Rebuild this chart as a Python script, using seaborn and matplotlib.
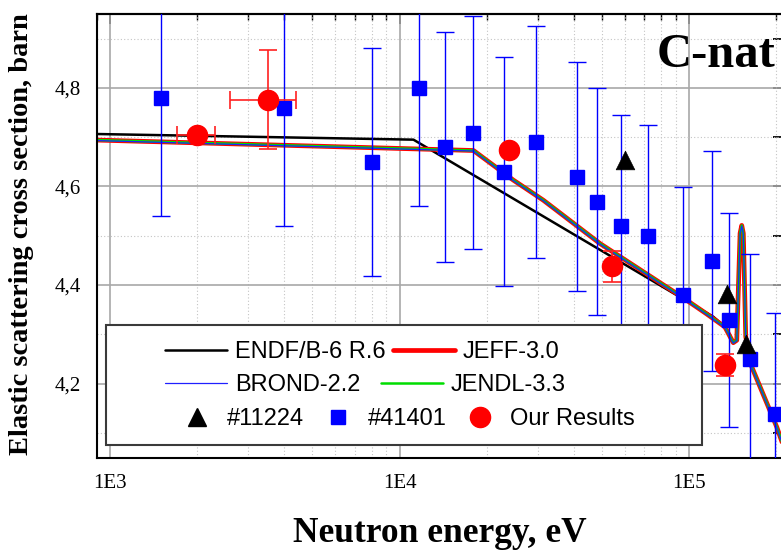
import matplotlib
matplotlib.use("Agg")
import matplotlib.pyplot as plt
import seaborn as sns
from matplotlib.lines import Line2D
from matplotlib.patches import Rectangle
from matplotlib.ticker import LogLocator, MultipleLocator, NullFormatter

# ---------------- data ----------------
# evaluated curves (energy in eV, cross section in barn)
endf_e = [800, 11170, 121400, 133000, 142200, 146200, 150100, 152100, 154000, 157000, 164700, 200900, 223400]
endf_v = [4.707, 4.695, 4.3355, 4.315, 4.283, 4.288, 4.505, 4.521, 4.505, 4.295, 4.234, 4.112, 4.035]

eval_e = [800, 18000, 24710, 31400, 49300, 94400, 115000, 133000, 142200, 146200,
          150100, 152100, 154000, 157000, 164700, 200900, 223400]
jeff_v = [4.695, 4.673, 4.613, 4.572, 4.484, 4.376, 4.3415, 4.315, 4.283, 4.288,
          4.505, 4.521, 4.505, 4.295, 4.234, 4.112, 4.035]
brond_v = [4.694, 4.672, 4.612, 4.571, 4.483, 4.375, 4.3405, 4.314, 4.282, 4.287,
           4.504, 4.520, 4.504, 4.294, 4.233, 4.111, 4.034]
jendl_v = [4.695, 4.673, 4.613, 4.572, 4.484, 4.376, 4.3415, 4.315, 4.283, 4.288,
           4.505, 4.521, 4.505, 4.295, 4.234, 4.112, 4.035]

# EXFOR #41401
sq_e = [1500, 4000, 8000, 11700, 14300, 18000, 23000, 29500, 41000, 48000,
        58000, 72000, 95000, 120000, 137000, 163000, 198000]
sq_v = [4.78, 4.76, 4.65, 4.80, 4.68, 4.709, 4.63, 4.69, 4.62, 4.569,
        4.52, 4.499, 4.379, 4.449, 4.329, 4.249, 4.138]
sq_err = [0.24, 0.24, 0.232, 0.24, 0.234, 0.236, 0.232, 0.235, 0.232, 0.23,
          0.225, 0.225, 0.22, 0.223, 0.217, 0.213, 0.206]

# EXFOR #11224
tri_e = [60000, 135000, 157000]
tri_v = [4.653, 4.381, 4.281]

# Our results
our_e = [2000, 3500, 23900, 54000, 133000]
our_v = [4.705, 4.776, 4.674, 4.438, 4.238]
our_yerr = [0.0, 0.10, 0.0, 0.032, 0.022]
our_xerr_lo = [300, 900, 0, 0, 0]
our_xerr_hi = [306, 890, 0, 0, 0]

x_ticks = [1e3, 1e4, 1e5]
x_tick_labels = ["1E3", "1E4", "1E5"]
y_ticks = [4.2, 4.4, 4.6, 4.8]
y_tick_labels = ["4,2", "4,4", "4,6", "4,8"]

labels_lines = ["ENDF/B-6 R.6", "JEFF-3.0", "BROND-2.2", "JENDL-3.3"]
labels_pts = ["#11224", "#41401", "Our Results"]

# ---------------- style ----------------
sns.set_style("white")
plt.rcParams["font.family"] = ["Liberation Serif", "DejaVu Serif"]
plt.rcParams["text.color"] = "black"
plt.rcParams["axes.labelcolor"] = "black"
plt.rcParams["xtick.color"] = "black"
plt.rcParams["ytick.color"] = "black"

W, H = 781, 550
fig = plt.figure(figsize=(W / 100, H / 100), dpi=100)
L, R, T, B = 96.7, 782.0, 14.0, 458.0
ax = fig.add_axes([L / W, 1 - B / H, (R - L) / W, (B - T) / H])
ax.set_xscale("log")

# ---------------- curves ----------------
sns.lineplot(x=endf_e, y=endf_v, ax=ax, color="black", lw=1.8, sort=False,
             estimator=None, zorder=2)
h_endf = ax.lines[-1]
sns.lineplot(x=eval_e, y=jeff_v, ax=ax, color="#ff0000", lw=3.4, sort=False,
             estimator=None, zorder=2.1)
h_jeff = ax.lines[-1]
sns.lineplot(x=eval_e, y=jendl_v, ax=ax, color="#00dd00", lw=1.8, sort=False,
             estimator=None, zorder=2.2)
h_jendl = ax.lines[-1]
sns.lineplot(x=eval_e, y=brond_v, ax=ax, color="#2020ff", lw=0.9, sort=False,
             estimator=None, zorder=2.3)
h_brond = ax.lines[-1]

# ---------------- points ----------------
ax.errorbar(sq_e, sq_v, yerr=sq_err, fmt="s", color="#0000ff", ms=10.5,
            mec="#0000ff", ecolor="#0000ff", elinewidth=1.0, capsize=6.5,
            capthick=1.0, zorder=3)
sns.scatterplot(x=tri_e, y=tri_v, ax=ax, marker="^", s=180, color="black",
                edgecolor="black", linewidth=0.5, zorder=4)
ax.errorbar(our_e, our_v, yerr=our_yerr, xerr=[our_xerr_lo, our_xerr_hi], fmt="o",
            color="#ff0000", ms=14.5, mec="#ff0000", ecolor="#ff2020",
            elinewidth=1.2, capsize=6.5, capthick=1.2, zorder=5)

# ---------------- axes ----------------
ax.set_xlim(899, 209500)
ax.set_ylim(4.049, 4.95)
ax.set_xticks(x_ticks, labels=x_tick_labels)
ax.xaxis.set_minor_locator(LogLocator(base=10, subs=[2, 3, 4, 5, 6, 7, 8, 9]))
ax.xaxis.set_minor_formatter(NullFormatter())
ax.set_yticks(y_ticks, labels=y_tick_labels)
ax.yaxis.set_minor_locator(MultipleLocator(0.1))

ax.grid(which="major", color="#a8a8a8", lw=1.2, ls="-")
ax.grid(which="minor", color="#c4c4c4", lw=0.8, ls=(0, (1, 2)))
ax.set_axisbelow(True)

for s in ["left", "bottom", "top"]:
    ax.spines[s].set_color("black")
    ax.spines[s].set_linewidth(1.5)
ax.spines["right"].set_visible(False)

ax.tick_params(axis="x", which="major", direction="inout", length=13.5, width=1.3,
               pad=5.0, labelsize=15, top=False, colors="black")
ax.tick_params(axis="x", which="minor", direction="inout", length=7, width=1.0,
               top=False, colors="black")
ax.tick_params(axis="y", which="major", direction="inout", length=9, width=1.3,
               pad=6.8, labelsize=15, right=False, colors="black")
ax.tick_params(axis="y", which="minor", direction="out", length=4, width=1.0,
               right=False, colors="black")

secx = ax.secondary_xaxis("top")
secx.set_xticks(x_ticks)
secx.xaxis.set_minor_locator(LogLocator(base=10, subs=[2, 3, 4, 5, 6, 7, 8, 9]))
secx.xaxis.set_minor_formatter(NullFormatter())
secx.tick_params(which="major", direction="in", length=7.5, width=1.3, labeltop=False,
                 colors="black")
secx.tick_params(which="minor", direction="in", length=4.5, width=1.0, colors="black")
secx.spines["top"].set_linewidth(1.5)
secx.spines["top"].set_color("black")

secy = ax.secondary_yaxis("right")
secy.set_yticks(y_ticks)
secy.yaxis.set_minor_locator(MultipleLocator(0.1))
secy.tick_params(which="both", direction="in", length=6.5, width=1.3, labelright=False,
                 colors="black")
secy.spines["right"].set_visible(False)

# ---------------- labels ----------------
fig.text(440 / W, 1 - 541.7 / H, "Neutron energy, eV", ha="center", va="baseline",
         fontsize=25.5, fontweight="bold", family=["Liberation Serif"], color="black")
fig.text(22 / W, 1 - 234 / H, "Elastic scattering cross section, barn", rotation=90,
         ha="center", va="center", fontsize=20.5, fontweight="bold",
         family=["Liberation Serif"], color="black")
ax.text(0.8172, 0.8813, "C-nat", transform=ax.transAxes, ha="left", va="baseline",
        fontsize=35, fontweight="bold", family=["Liberation Serif"], zorder=7,
        color="black")

# ---------------- legend ----------------
ax.add_patch(Rectangle((0.0131, 0.0293), 0.8828 - 0.0131, 0.2995 - 0.0293,
                       transform=ax.transAxes, facecolor="white", edgecolor="#3a3a3a",
                       lw=1.5, zorder=6))
prop = {"family": "Liberation Sans", "size": 17}
common = dict(loc="center left", frameon=False, borderpad=0, borderaxespad=0,
              prop=prop, handletextpad=0.33, labelcolor="black")

lg1 = ax.legend([h_endf, h_jeff], labels_lines[:2], ncol=2, handlelength=2.64,
                columnspacing=0.3, bbox_to_anchor=(0.0997, 0.2387), **common)
lg1.set_zorder(7)
ax.add_artist(lg1)
lg2 = ax.legend([h_brond, h_jendl], labels_lines[2:], ncol=2, handlelength=2.64,
                columnspacing=0.86, bbox_to_anchor=(0.0997, 0.1644), **common)
lg2.set_zorder(7)
ax.add_artist(lg2)

p_tri = Line2D([], [], ls="none", marker="^", ms=13, color="black")
p_sq = Line2D([], [], ls="none", marker="s", ms=10.5, color="#0000ff")
p_ci = Line2D([], [], ls="none", marker="o", ms=14.5, color="#ff0000")
common3 = dict(common)
common3["handletextpad"] = 0.27
lg3 = ax.legend([p_tri, p_sq, p_ci], labels_pts, ncol=3, handlelength=2.0,
                columnspacing=0.43, bbox_to_anchor=(0.1114, 0.0878), **common3)
lg3.set_zorder(7)

fig.savefig("out.png", dpi=100)
